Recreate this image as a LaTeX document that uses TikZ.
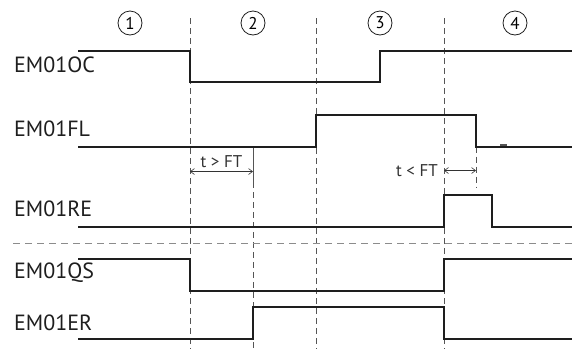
\documentclass[tikz,border=0pt]{standalone}
\usepackage{fontspec}
\setmainfont{PT Sans}
\usetikzlibrary{arrows.meta,positioning,calc}
\definecolor{sigBlack}{HTML}{1E1E1E}
\definecolor{gridGray}{HTML}{555555}
\definecolor{sepGray}{HTML}{8C8C8C}
\definecolor{txtGray}{HTML}{333333}
\tikzset{
  senal/.style={draw=sigBlack, line width=2pt, line join=miter},
  rotulo/.style={anchor=west, inner sep=0pt, text=sigBlack, font=\fontsize{22pt}{22pt}\selectfont},
  fase/.style={draw=sigBlack, circle, line width=0.8pt, inner sep=0pt, minimum size=24pt, font=\fontsize{17pt}{17pt}\selectfont},
  marca/.style={draw=gridGray, line width=0.9pt, dash pattern=on 6pt off 4pt},
  separa/.style={draw=sepGray, line width=1pt, dash pattern=on 7pt off 5pt},
  medida/.style={{Straight Barb[length=4pt,width=6pt]}-{Straight Barb[length=4pt,width=6pt]}, draw=txtGray, line width=0.6pt},
  nota/.style={inner sep=0pt, text=txtGray, font=\fontsize{17pt}{17pt}\selectfont},
}

\begin{document}
\begin{tikzpicture}[x=1pt, y=-1pt]
\useasboundingbox (0,0) rectangle (572,349);
% phases
\node[fase] (f1) at (130,23) {1};
\node[fase] (f2) at (253,23) {2};
\node[fase] (f3) at (380,23) {3};
\node[fase] (f4) at (515,23) {4};
% time marks
\foreach \x in {190,316,444}
  \draw[marca] (\x,18) -- (\x,349);
\draw[draw=gridGray, line width=0.7pt] (253,146.7) -- (253,182);
\draw[marca] (253,182) -- (253,349);
\draw[marca] (476,146.7) -- (476,187);
\draw[separa] (13,243) -- (572,243);
% signal names
\node[rotulo] (oc) at (14,65) {EM01OC};
\node[rotulo] (fl) at (14,129) {EM01FL};
\node[rotulo] (re) at (14,209) {EM01RE};
\node[rotulo] (qs) at (14,273) {EM01QS};
\node[rotulo] (er) at (14,323) {EM01ER};
% signals
\draw[senal] (78,50.7) -- (190,50.7) -- (190,82) -- (380,82) -- (380,50.7) -- (572,50.7);
\draw[senal] (78,146.7) -- (316,146.7) -- (316,114.7) -- (476,114.7) -- (476,146.7) -- (572,146.7);
\draw[draw=gridGray, line width=2pt] (500,145.3) -- (507,145.3);
\draw[senal] (78,227) -- (444,227) -- (444,195) -- (492,195) -- (492,227) -- (572,227);
\draw[senal] (78,259) -- (190,259) -- (190,291) -- (444,291) -- (444,259) -- (572,259);
\draw[senal] (78,338.5) -- (253,338.5) -- (253,307) -- (444,307) -- (444,338.5) -- (572,338.5);
% filter time
\coordinate (gtA) at (190,171.5);
\coordinate (gtB) at (253,171.5);
\coordinate (ltA) at (444,170.5);
\coordinate (ltB) at (476,170.5);
\draw[medida] (gtA) -- (gtB);
\draw[medida] (ltA) -- (ltB);
\node[nota, above=4pt of $(gtA)!0.5!(gtB)$] (gt) {t > FT};
\node[nota, left=6pt of ltA] (lt) {t < FT};
\end{tikzpicture}
\end{document}
